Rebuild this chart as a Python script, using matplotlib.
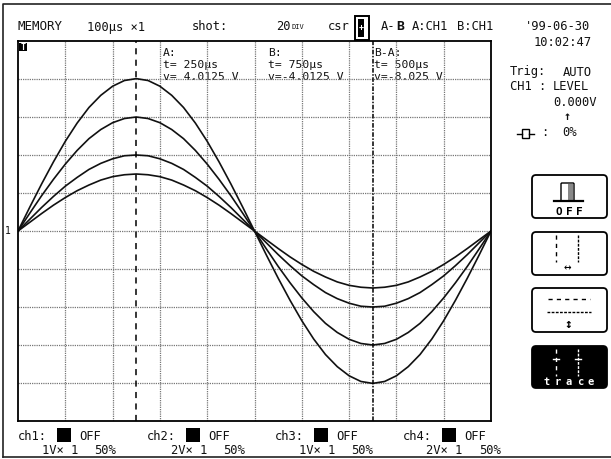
import matplotlib
matplotlib.use('Agg')
import matplotlib.pyplot as plt
from matplotlib.patches import FancyBboxPatch, Rectangle

plt.rcParams['font.family'] = ['DejaVu Sans Mono', 'DejaVu Sans']

# 波形データ (picture から読み取り)  time in us, one point every 25 us
time_us = [0, 25, 50, 75, 100, 125, 150, 175, 200, 225, 250, 275, 300, 325, 350, 375, 400, 425, 450, 475, 500,
           525, 550, 575, 600, 625, 650, 675, 700, 725, 750, 775, 800, 825, 850, 875, 900, 925, 950, 975, 1000]
trace_4v = [0, .63, 1.24, 1.82, 2.36, 2.84, 3.25, 3.57, 3.81, 3.96, 4.01, 3.96, 3.81, 3.57, 3.25, 2.84, 2.36, 1.82, 1.24, .63, 0,
            -.63, -1.24, -1.82, -2.36, -2.84, -3.25, -3.57, -3.81, -3.96, -4.01, -3.96, -3.81, -3.57, -3.25, -2.84, -2.36, -1.82, -1.24, -.63, 0]
trace_3v = [0, .47, .93, 1.36, 1.76, 2.12, 2.43, 2.67, 2.85, 2.96, 3.0, 2.96, 2.85, 2.67, 2.43, 2.12, 1.76, 1.36, .93, .47, 0,
            -.47, -.93, -1.36, -1.76, -2.12, -2.43, -2.67, -2.85, -2.96, -3.0, -2.96, -2.85, -2.67, -2.43, -2.12, -1.76, -1.36, -.93, -.47, 0]
trace_2v = [0, .31, .62, .91, 1.18, 1.41, 1.62, 1.78, 1.90, 1.98, 2.0, 1.98, 1.90, 1.78, 1.62, 1.41, 1.18, .91, .62, .31, 0,
            -.31, -.62, -.91, -1.18, -1.41, -1.62, -1.78, -1.90, -1.98, -2.0, -1.98, -1.90, -1.78, -1.62, -1.41, -1.18, -.91, -.62, -.31, 0]
trace_15v = [0, .23, .46, .68, .88, 1.06, 1.21, 1.34, 1.43, 1.48, 1.5, 1.48, 1.43, 1.34, 1.21, 1.06, .88, .68, .46, .23, 0,
             -.23, -.46, -.68, -.88, -1.06, -1.21, -1.34, -1.43, -1.48, -1.5, -1.48, -1.43, -1.34, -1.21, -1.06, -.88, -.68, -.46, -.23, 0]
traces = [trace_4v, trace_3v, trace_2v, trace_15v]

cursor_a = 250
cursor_b = 750
x_grid = [100, 200, 300, 400, 500, 600, 700, 800, 900]
y_grid = [-4, -3, -2, -1, 0, 1, 2, 3, 4]

W, H = 611, 459
fig = plt.figure(figsize=(W / 100, H / 100), dpi=100, facecolor='white')

# 画面全体の overlay (pixel 座標)
bg = fig.add_axes([0, 0, 1, 1])
bg.set_xlim(0, W)
bg.set_ylim(H, 0)
bg.axis('off')

# 外枠
bg.plot([3, 3, W], [457, 4, 4], color='#222222', lw=1.2)
bg.plot([3, W], [457, 457], color='#222222', lw=1.2)

# 波形の軸
ax = fig.add_axes([18 / W, 1 - 421 / H, 473 / W, 380 / H])
ax.set_xlim(0, 1000)
ax.set_ylim(-5, 5)
ax.set_xticks([])
ax.set_yticks([])
ax.patch.set_alpha(0)
for s in ax.spines.values():
    s.set_linewidth(1.3)
    s.set_color('black')

for v in x_grid:
    ax.axvline(v, color='#777777', lw=0.9, ls=(0, (1, 0.8)))
for v in y_grid:
    ax.axhline(v, color='#777777', lw=0.9, ls=(0, (1, 0.8)))

for tr in traces:
    ax.plot(time_us, tr, color='#111111', lw=1.2)

ax.axvline(cursor_a, color='black', lw=1.1, ls=(0, (4, 3.5)))
ax.axvline(cursor_b, color='black', lw=1.1, ls=(0, (3, 1, 1, 1)))


def txt(x, y, s, size=8.7, **kw):
    bg.text(x, y, s, fontsize=size, va='center', ha='left', color='#111111', **kw)


# ヘッダ
txt(18, 27, 'MEMORY', 9)
txt(87, 27, '100µs ×1')
txt(192, 27, 'shot:')
txt(276, 27, '20')
txt(292, 27, 'DIV', 5)
txt(328, 27, 'csr')
bg.add_patch(Rectangle((355, 16), 14, 24, fc='white', ec='black', lw=1.4))
bg.add_patch(Rectangle((358, 19), 6, 18, fc='black', ec='black', lw=0))
bg.text(361, 28, '+', fontsize=6, color='white', ha='center', va='center', fontweight='bold')
txt(381, 27, 'A-')
txt(396, 27, 'B', 9.5, fontweight='bold')
txt(412, 27, 'A:CH1')
txt(457, 27, 'B:CH1')

# 右上
txt(525, 26, "'99-06-30")
txt(534, 42, '10:02:47')
txt(510, 72, 'Trig:')
txt(563, 72, 'AUTO')
txt(510, 87, 'CH1 :')
txt(553, 87, 'LEVEL')
txt(553, 102, '0.000V')
txt(564, 117, '↑', 8.5, fontweight='bold')
bg.add_patch(Rectangle((522, 129), 7, 9, fc='white', ec='black', lw=1))
bg.plot([517, 522], [134, 134], color='black', lw=1)
bg.plot([529, 534], [134, 134], color='black', lw=1)
txt(541, 133, ':')
txt(562, 133, '0%')

# カーソル読み値
for x0, head, t_s, v_s in [(163, 'A:', 't= 250µs', 'v= 4.0125 V'),
                           (268, 'B:', 't= 750µs', 'v=-4.0125 V'),
                           (374, 'B-A:', 't= 500µs', 'v=-8.025 V')]:
    txt(x0, 53, head, 8.2)
    txt(x0, 65, t_s, 8.2)
    txt(x0, 77, v_s, 8.2)

bg.add_patch(Rectangle((19, 43), 8, 8, fc='black', ec='black', lw=0))
bg.text(23, 47, 'T', fontsize=6, color='white', ha='center', va='center', fontweight='bold')
txt(5, 231, '1', 7)

# チャンネル表示
for x0, ch, scale in [(18, 'ch1:', '1V× 1'), (147, 'ch2:', '2V× 1'), (275, 'ch3:', '1V× 1'), (403, 'ch4:', '2V× 1')]:
    txt(x0, 436, ch)
    bg.add_patch(Rectangle((x0 + 39, 428), 14, 14, fc='black', ec='black', lw=0))
    txt(x0 + 61, 436, 'OFF')
    txt(x0 + 24 if ch != 'ch4:' else x0 + 23, 450, scale)
    txt(x0 + 76, 450, '50%')


# ボタン
def button(y0, y1, dark=False):
    fc = 'black' if dark else 'white'
    bg.add_patch(FancyBboxPatch((536, y0 + 4), 67, y1 - y0 - 8, boxstyle='round,pad=4', fc=fc, ec='black', lw=1.3))


button(175, 218)
bg.add_patch(FancyBboxPatch((562, 184), 11, 16, boxstyle='round,pad=1', fc='white', ec='black', lw=1))
bg.add_patch(Rectangle((568, 184), 5, 16, fc='#888888', ec='none'))
bg.plot([554, 583], [201, 201], color='black', lw=1.6)
for i, ch in enumerate('OFF'):
    bg.text(559 + i * 10, 212, ch, fontsize=8, ha='center', va='center', fontweight='bold', color='black')

button(232, 275)
bg.plot([556, 556], [235, 262], color='black', lw=1, ls=(0, (3, 3)))
bg.plot([578, 578], [235, 262], color='black', lw=1, ls=(0, (2, 1)))
bg.text(567, 268, '↔', fontsize=9, ha='center', va='center', color='black')

button(288, 332)
bg.plot([548, 590], [299, 299], color='black', lw=1, ls=(0, (3, 3)))
bg.plot([547, 591], [312, 312], color='black', lw=1, ls=(0, (2, 1)))
bg.text(568, 324, '↕', fontsize=9, ha='center', va='center', color='black', fontweight='bold')

button(346, 388, dark=True)
bg.plot([556, 556], [349, 376], color='white', lw=1, ls=(0, (3, 3)))
bg.plot([578, 578], [349, 376], color='white', lw=1, ls=(0, (2, 1)))
bg.plot([553, 559], [359, 359], color='white', lw=1)
bg.plot([575, 581], [359, 359], color='white', lw=1)
for i, ch in enumerate('trace'):
    bg.text(547 + i * 11, 382, ch, fontsize=7.5, ha='center', va='center', color='white', fontweight='bold')

fig.savefig('out.png', dpi=100)
